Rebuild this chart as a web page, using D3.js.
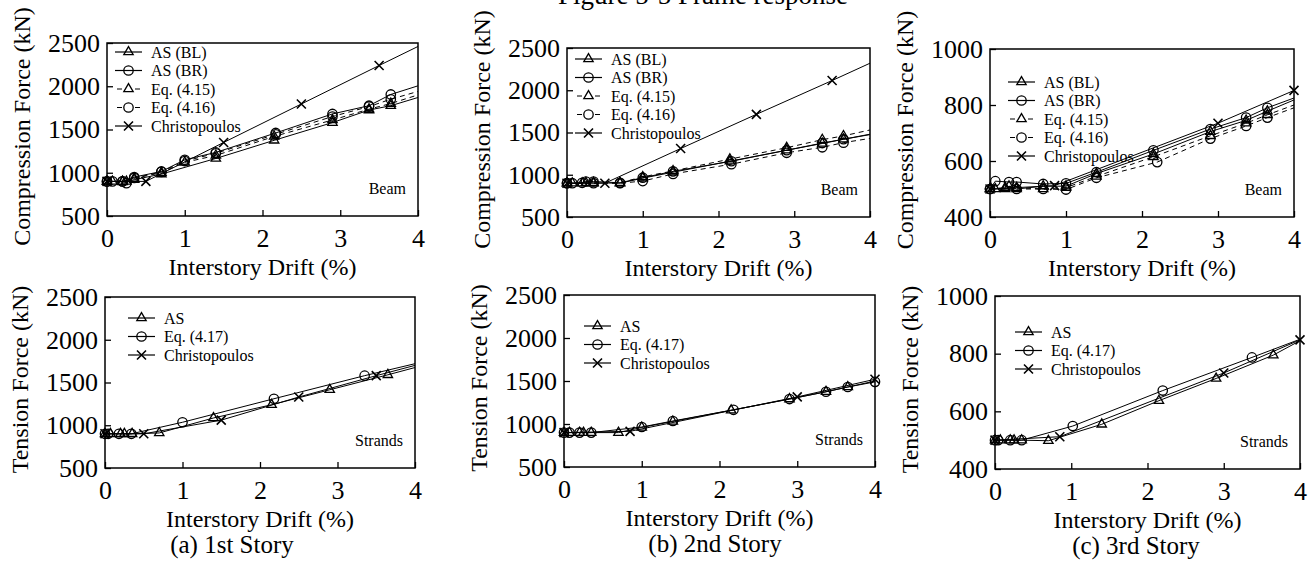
<!DOCTYPE html>
<html>
<head>
<meta charset="utf-8">
<script src="https://cdn.jsdelivr.net/npm/d3@7"></script>
<style>
  body { margin: 0; background: #fff; }
  svg { display: block; }
  text { font-family: "Liberation Serif", "Times New Roman", serif; fill: #000; }
</style>
</head>
<body>
<svg width="1316" height="565"></svg>
<script>
// tick labels
var xTicks = [0, 1, 2, 3, 4];
var yTicksLarge = [500, 1000, 1500, 2000, 2500];
var yTicksSmall = [400, 600, 800, 1000];

// 1st story - beam compression  [drift %, force kN]
var s1BL = [[0,900],[0.07,900],[0.2,895],[0.25,900],[0.35,920],[0.7,985],[1.4,1165],[2.15,1375],[2.9,1580],[3.37,1725],[3.65,1775],[4,1870]];
var s1BR = [[0,900],[0.07,900],[0.2,900],[0.25,880],[0.35,950],[0.7,1015],[1.0,1150],[1.4,1235],[2.17,1460],[2.9,1680],[3.37,1775],[3.65,1905],[4,2005]];
var s1Eq15 = [[0,900],[0.2,900],[0.35,935],[0.7,1000],[1.0,1120],[1.4,1200],[2.15,1420],[2.9,1610],[3.37,1735],[3.65,1800],[4,1900]];
var s1Eq16 = [[0,900],[0.2,900],[0.35,940],[0.7,1010],[1.0,1135],[1.4,1225],[2.17,1445],[2.9,1650],[3.37,1765],[3.65,1850],[4,1940]];
var s1Chr = [[0,900],[0.5,900],[1.5,1350],[2.5,1795],[3.5,2240],[4,2460]];

// 2nd story - beam compression
var s2BL = [[0,900],[0.07,900],[0.2,900],[0.25,905],[0.35,905],[0.7,900],[1.0,960],[1.4,1030],[2.15,1160],[2.9,1290],[3.37,1370],[3.65,1420],[4,1480]];
var s2BR = [[0,900],[0.07,900],[0.2,905],[0.25,920],[0.35,920],[0.7,905],[1.0,965],[1.4,1040],[2.17,1160],[2.9,1290],[3.37,1375],[3.65,1420],[4,1475]];
var s2Eq15 = [[0,900],[0.35,900],[0.7,905],[1.0,975],[1.4,1045],[2.15,1185],[2.9,1320],[3.37,1415],[3.65,1460],[4,1530]];
var s2Eq16 = [[0,900],[0.35,900],[0.7,900],[1.0,925],[1.4,1010],[2.17,1125],[2.9,1260],[3.37,1325],[3.65,1380],[4,1430]];
var s2Chr = [[0,900],[0.5,900],[1.5,1310],[2.5,1715],[3.5,2115],[4,2320]];

// 3rd story - beam compression
var s3BL = [[0,500],[0.07,500],[0.2,500],[0.25,510],[0.35,500],[0.7,510],[1.0,510],[1.4,555],[2.15,625],[2.9,705],[3.37,745],[3.65,778],[4,818]];
var s3BR = [[0,500],[0.07,528],[0.25,525],[0.35,525],[0.7,518],[1.0,520],[1.4,560],[2.15,638],[2.9,714],[3.37,755],[3.65,790],[4,825]];
var s3Eq15 = [[0,500],[0.2,505],[0.35,505],[0.7,500],[1.0,505],[1.4,545],[2.15,615],[2.9,690],[3.37,735],[3.65,765],[4,800]];
var s3Eq16 = [[0,500],[0.35,500],[0.7,500],[1.0,498],[1.4,540],[2.2,596],[2.9,680],[3.37,725],[3.65,755],[4,790]];
var s3Chr = [[0,500],[0.85,512],[3.0,735],[4,852]];

// strand tension
var t1AS = [[0,900],[0.07,900],[0.2,900],[0.25,900],[0.35,900],[0.7,910],[1.4,1085],[2.15,1240],[2.9,1415],[3.65,1590],[4,1675]];
var t1Eq = [[0,900],[0.04,900],[0.18,900],[0.34,900],[1.0,1035],[2.18,1310],[3.35,1580],[4,1720]];
var t1Chr = [[0,900],[0.5,900],[1.5,1060],[2.5,1330],[3.5,1580],[4,1700]];

var t2AS = [[0,900],[0.07,900],[0.2,900],[0.25,900],[0.35,900],[0.7,900],[1.0,960],[1.4,1030],[2.15,1160],[2.9,1290],[3.37,1375],[3.65,1430],[4,1500]];
var t2Eq = [[0,900],[0.07,900],[0.2,900],[0.35,900],[1.0,965],[1.4,1035],[2.18,1165],[2.9,1290],[3.37,1375],[3.65,1430],[4,1490]];
var t2Chr = [[0,900],[0.85,915],[3.0,1315],[4,1520]];

var t3AS = [[0,500],[0.07,500],[0.2,500],[0.25,500],[0.35,500],[0.7,498],[1.4,555],[2.15,637],[2.9,714],[3.65,795],[4,845]];
var t3Eq = [[0,500],[0.04,500],[0.2,500],[0.35,500],[1.02,549],[2.2,672],[3.37,787],[4,850]];
var t3Chr = [[0,500],[0.85,512],[3.0,733],[4,848]];

var beamNames = ["AS (BL)", "AS (BR)", "Eq. (4.15)", "Eq. (4.16)", "Christopoulos"];
var strandNames = ["AS", "Eq. (4.17)", "Christopoulos"];
var captions = ["(a) 1st Story", "(b) 2nd Story", "(c) 3rd Story"];

// series builders: marker type + dashed or not
function beamSeries(bl, br, e15, e16, chr, chrEnd) {
    return [
        { name: beamNames[0], data: bl, mark: "tri", dash: false },
        { name: beamNames[1], data: br, mark: "circ", dash: false },
        { name: beamNames[2], data: e15, mark: "tri", dash: true },
        { name: beamNames[3], data: e16, mark: "circ", dash: true },
        { name: beamNames[4], data: chr, mark: "x", dash: false, markEnd: chrEnd }
    ];
}
function strandSeries(as, eq, chr, eqEnd, chrEnd) {
    return [
        { name: strandNames[0], data: as, mark: "tri", dash: false },
        { name: strandNames[1], data: eq, mark: "circ", dash: false, markEnd: eqEnd },
        { name: strandNames[2], data: chr, mark: "x", dash: false, markEnd: chrEnd }
    ];
}

var panels = [
    { box: [107, 418, 43, 216], yDomain: [500, 2500], yTicks: yTicksLarge, ylabel: "Compression Force (kN)", tag: "Beam",
      series: beamSeries(s1BL, s1BR, s1Eq15, s1Eq16, s1Chr, false), legend: [115, 52] },
    { box: [567, 870, 48, 217], yDomain: [500, 2500], yTicks: yTicksLarge, ylabel: "Compression Force (kN)", tag: "Beam",
      series: beamSeries(s2BL, s2BR, s2Eq15, s2Eq16, s2Chr, false), legend: [575, 59] },
    { box: [990, 1294, 49, 217], yDomain: [400, 1000], yTicks: yTicksSmall, ylabel: "Compression Force (kN)", tag: "Beam",
      series: beamSeries(s3BL, s3BR, s3Eq15, s3Eq16, s3Chr, true), legend: [1008, 82] },
    { box: [105, 415, 297, 468], yDomain: [500, 2500], yTicks: yTicksLarge, ylabel: "Tension Force (kN)", tag: "Strands",
      series: strandSeries(t1AS, t1Eq, t1Chr, false, false), legend: [128, 318], caption: [232, captions[0]] },
    { box: [564, 875, 295, 467], yDomain: [500, 2500], yTicks: yTicksLarge, ylabel: "Tension Force (kN)", tag: "Strands",
      series: strandSeries(t2AS, t2Eq, t2Chr, true, true), legend: [584, 326], caption: [715, captions[1]] },
    { box: [995, 1300, 296, 469], yDomain: [400, 1000], yTicks: yTicksSmall, ylabel: "Tension Force (kN)", tag: "Strands",
      series: strandSeries(t3AS, t3Eq, t3Chr, false, true), legend: [1015, 332], caption: [1136, captions[2]] }
];

var svg = d3.select("svg");

// title, cut off at the top edge in the original
svg.append("text")
    .attr("x", 703).attr("y", 4)
    .attr("text-anchor", "middle")
    .style("font-size", "27px")
    .text("Figure 5-5 Frame response");

// draw one marker at (cx, cy)
function drawMark(g, type, cx, cy) {
    if (type === "circ") {
        g.append("circle").attr("cx", cx).attr("cy", cy).attr("r", 4.7)
            .attr("fill", "none").attr("stroke", "#000").attr("stroke-width", 1.3);
    } else if (type === "tri") {
        g.append("path")
            .attr("d", d3.symbol(d3.symbolTriangle, 38)())
            .attr("transform", "translate(" + cx + "," + cy + ")")
            .attr("fill", "none").attr("stroke", "#000").attr("stroke-width", 1.3);
    } else {
        var s = 4.5;
        g.append("path")
            .attr("d", "M" + (cx - s) + "," + (cy - s) + "L" + (cx + s) + "," + (cy + s) +
                       "M" + (cx - s) + "," + (cy + s) + "L" + (cx + s) + "," + (cy - s))
            .attr("stroke", "#000").attr("stroke-width", 1.6);
    }
}

panels.forEach(function (p, i) {
    var left = p.box[0], right = p.box[1], top = p.box[2], bottom = p.box[3];
    var x = d3.scaleLinear().domain([0, 4]).range([left, right]);
    var y = d3.scaleLinear().domain(p.yDomain).range([bottom, top]);
    var g = svg.append("g");

    // axes with inward ticks
    var xa = g.append("g")
        .attr("transform", "translate(0," + bottom + ")")
        .call(d3.axisBottom(x).tickValues(xTicks).tickFormat(d3.format("d"))
            .tickSizeInner(-6).tickSizeOuter(0).tickPadding(13));
    var ya = g.append("g")
        .attr("transform", "translate(" + left + ",0)")
        .call(d3.axisLeft(y).tickValues(p.yTicks).tickFormat(d3.format("d"))
            .tickSizeInner(-6).tickSizeOuter(0).tickPadding(7));
    [xa, ya].forEach(function (a) {
        a.attr("font-family", null).attr("font-size", null);
        a.select(".domain").remove();
        a.selectAll("line").attr("stroke", "#000").attr("stroke-width", 1.3);
        a.selectAll("text").style("font-size", "26px");
    });

    // frame
    g.append("rect")
        .attr("x", left).attr("y", top)
        .attr("width", right - left).attr("height", bottom - top)
        .attr("fill", "none").attr("stroke", "#000").attr("stroke-width", 1.5);

    // axis titles
    g.append("text")
        .attr("x", (left + right) / 2).attr("y", bottom + 59)
        .attr("text-anchor", "middle").style("font-size", "24px")
        .text("Interstory Drift (%)");
    g.append("text")
        .attr("transform", "translate(" + (left - 77) + "," + ((top + bottom) / 2 - 3) + ") rotate(-90)")
        .attr("text-anchor", "middle").style("font-size", "24px")
        .text(p.ylabel);

    g.append("text")
        .attr("x", right - 12).attr("y", bottom - 22)
        .attr("text-anchor", "end").style("font-size", "16px")
        .text(p.tag);

    if (p.caption) {
        g.append("text")
            .attr("x", p.caption[0]).attr("y", bottom + 85)
            .attr("text-anchor", "middle").style("font-size", "25px")
            .text(p.caption[1]);
    }

    // series lines and markers
    var line = d3.line().x(function (d) { return x(d[0]); }).y(function (d) { return y(d[1]); });
    p.series.forEach(function (s) {
        g.append("path")
            .datum(s.data)
            .attr("d", line)
            .attr("fill", "none").attr("stroke", "#000").attr("stroke-width", 1)
            .attr("stroke-dasharray", s.dash ? "5,4" : null);
        s.data.forEach(function (d) {
            if (d[0] < 4 || s.markEnd) drawMark(g, s.mark, x(d[0]), y(d[1]));
        });
    });

    // legend
    var lx = p.legend[0];
    p.series.forEach(function (s, k) {
        var ly = p.legend[1] + k * 18.5;
        if (s.dash) {
            g.append("line").attr("x1", lx + 2).attr("x2", lx + 7).attr("y1", ly).attr("y2", ly)
                .attr("stroke", "#000").attr("stroke-width", 1);
            g.append("line").attr("x1", lx + 20).attr("x2", lx + 25).attr("y1", ly).attr("y2", ly)
                .attr("stroke", "#000").attr("stroke-width", 1);
        } else {
            g.append("line").attr("x1", lx).attr("x2", lx + 27).attr("y1", ly).attr("y2", ly)
                .attr("stroke", "#000").attr("stroke-width", 1.2);
        }
        drawMark(g, s.mark, lx + 13.5, ly);
        g.append("text")
            .attr("x", lx + 36).attr("y", ly + 5.5)
            .style("font-size", "16px")
            .text(s.name);
    });
});
</script>
</body>
</html>
